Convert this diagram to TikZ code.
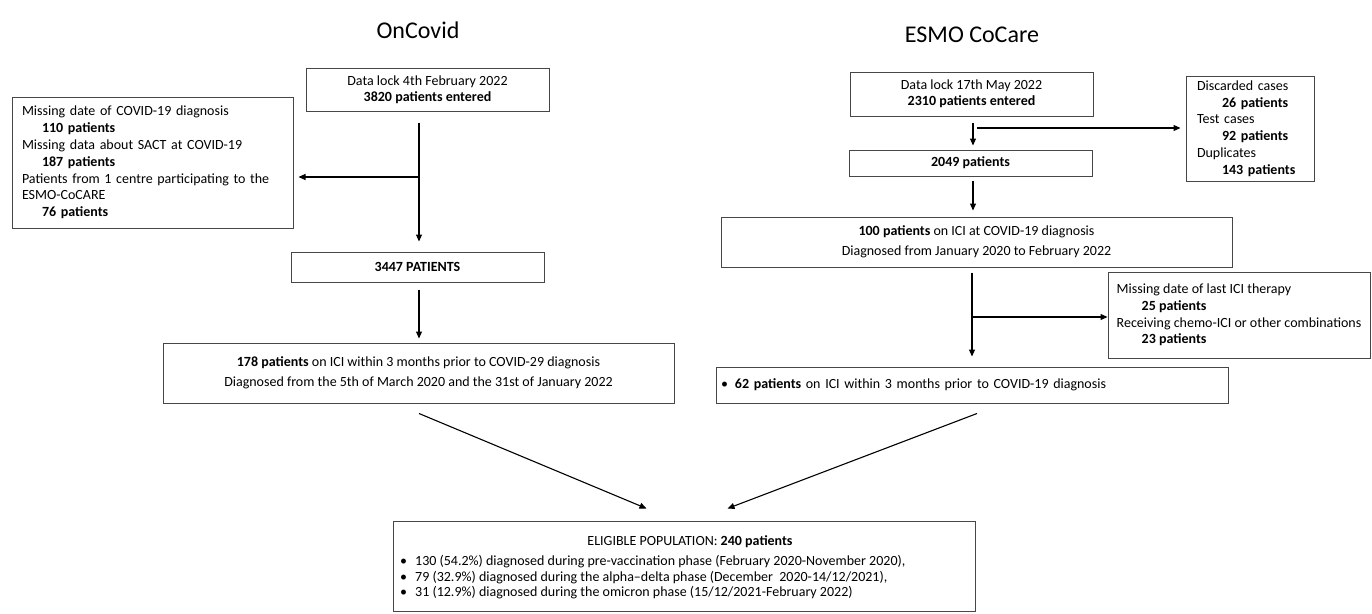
\documentclass[tikz,border=0pt]{standalone}
\usepackage{fontspec}
\setmainfont{Carlito}
\usetikzlibrary{arrows.meta,calc}
\begin{document}
\begin{tikzpicture}[x=1pt,y=-1pt,
  box/.style={draw=black!72, line width=1pt, rectangle, inner sep=0pt, text=black,
    font=\fontsize{14}{16.8}\selectfont},
  arr/.style={line width=1.1pt, draw=black, -{Triangle[length=7pt,width=6pt]}},
  ttl/.style={font=\fontsize{24}{28}\selectfont, inner sep=0pt, text=black},
  txt/.style={inner sep=0pt, text=black, font=\fontsize{14}{16.8}\selectfont}]
\useasboundingbox (0,0) rectangle (1372,613);

% titles
\node[ttl] (tOn) at (418,30) {OnCovid};
\node[ttl] (tEs) at (972,35) {ESMO CoCare};

% left column
\node[box, minimum width=243pt, minimum height=43pt, align=center,
  font=\fontsize{14}{15.5}\selectfont] (lock1) at (427.5,89.5)
  {Data lock 4th February 2022\\\textbf{3820 patients entered}};
\node[box, minimum width=281pt, minimum height=131pt, text width=261pt, align=left] (excl1) at (152.5,162.5)
  {Missing date of COVID-19 diagnosis\\
   \hspace*{20pt}\textbf{110 patients}\\
   Missing data about SACT at COVID-19\\
   \hspace*{20pt}\textbf{187 patients}\\
   Patients from 1 centre participating to the\\
   ESMO-CoCARE\\
   \hspace*{20pt}\textbf{76 patients}};
\node[box, minimum width=253pt, minimum height=30pt] (p3447) at (417.5,267) {\textbf{3447 PATIENTS}};
\node[box, minimum width=511pt, minimum height=60pt, align=center,
  font=\fontsize{14}{20}\selectfont] (p178) at (418.5,373)
  {\textbf{178 patients} on ICI within 3 months prior to COVID-29 diagnosis\\
   Diagnosed from the 5th of March 2020 and the 31st of January 2022};

% right column
\node[box, minimum width=243pt, minimum height=44pt, align=center,
  font=\fontsize{14}{16}\selectfont] (lock2) at (971.5,94)
  {Data lock 17th May 2022\\\textbf{2310 patients entered}};
\node[box, minimum width=128pt, minimum height=105pt, text width=106pt, align=left] (disc) at (1250,128.5)
  {Discarded cases\\
   \hspace*{25pt}\textbf{26 patients}\\
   Test cases\\
   \hspace*{25pt}\textbf{92 patients}\\
   Duplicates\\
   \hspace*{25pt}\textbf{143 patients}};
\node[box, minimum width=243pt, minimum height=26pt] (p2049) at (970.5,163) {\textbf{2049 patients}};
\node[box, minimum width=511pt, minimum height=50pt, align=center,
  font=\fontsize{14}{19.5}\selectfont] (p100) at (976.5,242)
  {\textbf{100 patients} on ICI at COVID-19 diagnosis\\
   Diagnosed from January 2020 to February 2022};
\node[box, minimum width=262pt, minimum height=86pt, align=left] (excl2) at (1239,315)
  {Missing date of last ICI therapy\\
   \hspace*{25pt}\textbf{25 patients}\\
   Receiving chemo-ICI or other combinations\\
   \hspace*{25pt}\textbf{23 patients}};
\node[box, minimum width=512pt, minimum height=36pt, text width=502pt, align=left] (p62) at (972,385)
  {\textbullet\hspace{7pt}\textbf{62 patients} on ICI within 3 months prior to COVID-19 diagnosis};

% bottom box
\node[box, minimum width=582pt, minimum height=90pt] (elig) at (684,566) {};
\node[txt] (eligT) at (690,542) {ELIGIBLE POPULATION: \textbf{240 patients}};
\node[txt, anchor=west, align=left, font=\fontsize{14}{15.5}\selectfont] (eligL) at (400,577.5)
  {\makebox[15pt][l]{\textbullet}130 (54.2\%) diagnosed during pre-vaccination phase (February 2020-November 2020),\\
   \makebox[15pt][l]{\textbullet}79 (32.9\%) diagnosed during the alpha\textendash delta phase (December\ \ 2020-14/12/2021),\\
   \makebox[15pt][l]{\textbullet}31 (12.9\%) diagnosed during the omicron phase (15/12/2021-February 2022)};

% helper coordinates
\coordinate (c1) at (419,177);
\coordinate (c2) at (973,128);
\coordinate (b2) at (977,128);
\coordinate (c3) at (972,317);

% left arrows
\draw[arr, shorten <=11pt, shorten >=10pt] (lock1.south -| c1) -- (p3447.north -| c1);
\draw[arr, shorten >=5pt] (c1) -- (c1 -| excl1.east);
\draw[arr, shorten <=7pt, shorten >=4pt] (p3447.south -| c1) -- (p178.north -| c1);

% right arrows
\draw[arr, shorten <=6pt, shorten >=4pt] (lock2.south -| c2) -- (p2049.north -| c2);
\draw[arr, shorten >=5pt] (b2) -- (b2 -| disc.west);
\draw[arr, shorten <=4pt, shorten >=6pt] (p2049.south -| c2) -- (p100.north -| c2);
\draw[arr, shorten <=5pt, shorten >=10pt] (p100.south -| c3) -- (p62.north -| c3);
\draw[arr] (c3) -- (c3 -| excl2.west);

% converging arrows
\draw[arr] ($(p178.south)+(0.5,10)$) -- ($(elig.north west)+(254,-12)$);
\draw[arr] ($(p62.south)+(5,10)$) -- ($(elig.north west)+(335,-12)$);
\end{tikzpicture}
\end{document}
